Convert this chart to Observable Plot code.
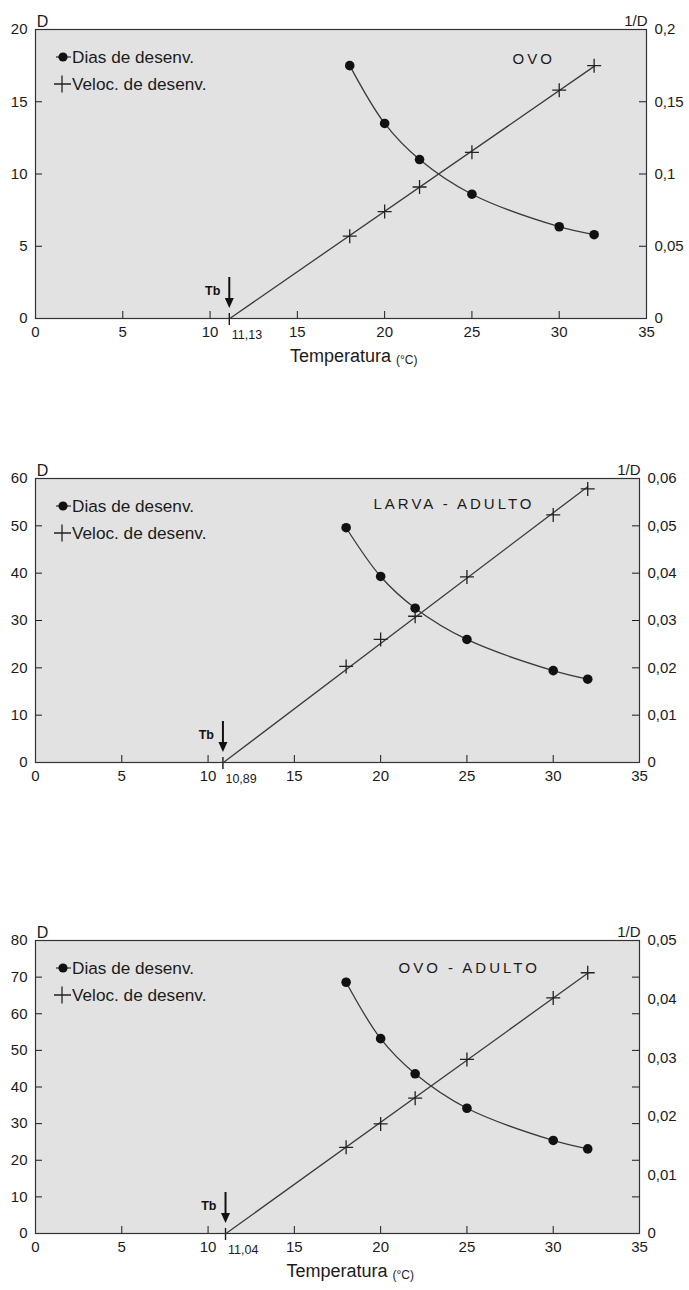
<!DOCTYPE html>
<html><head><meta charset="utf-8">
<script src="https://cdn.jsdelivr.net/npm/d3@7"></script>
<script src="https://cdn.jsdelivr.net/npm/@observablehq/plot@0.6"></script>
<style>
body{margin:0;background:#fff;}
#wrap{position:relative;width:689px;height:1290px;overflow:hidden;background:#fff;}
.panel{position:absolute;left:0;}
</style></head><body><div id="wrap"></div>
<script>
// ---- data ----
const temps = [18, 20, 22, 25, 30, 32];

const diasOvo = [17.5, 13.5, 11.0, 8.6, 6.35, 5.8];
const velOvo = [0.057, 0.074, 0.091, 0.115, 0.158, 0.175];
const tbOvo = 11.13;

const diasLarva = [49.6, 39.3, 32.6, 26.0, 19.4, 17.6];
const velLarva = [0.0203, 0.0260, 0.0309, 0.0392, 0.0523, 0.0578];
const tbLarva = 10.89;

const diasOvoAdulto = [68.6, 53.2, 43.6, 34.2, 25.4, 23.1];
const velOvoAdulto = [0.0147, 0.0187, 0.0231, 0.0297, 0.0402, 0.0445];
const tbOvoAdulto = 11.04;

const xTicks = [0, 5, 10, 15, 20, 25, 30, 35];
const dTicksOvo = [0, 5, 10, 15, 20];
const vTicksOvo = [0, 0.05, 0.1, 0.15, 0.2];
const dTicksLarva = [0, 10, 20, 30, 40, 50, 60];
const vTicksLarva = [0, 0.01, 0.02, 0.03, 0.04, 0.05, 0.06];
const dTicksOvoAdulto = [0, 10, 20, 30, 40, 50, 60, 70, 80];
const vTicksOvoAdulto = [0, 0.01, 0.02, 0.03, 0.04, 0.05];

const panelTitles = ["OVO", "LARVA - ADULTO", "OVO - ADULTO"];
const legendLabels = ["Dias de desenv.", "Veloc. de desenv."];
const leftAxisTitle = "D";
const rightAxisTitle = "1/D";
const tbLabel = "Tb";
const xTitleMain = "Temperatura";
const xTitleUnit = "(°C)";

// ---- drawing ----
const FONT = "'Liberation Sans', Arial, Helvetica, sans-serif";
const INK = "#1b1b1b";
const LINE = "#3a3a3a";
const fmtComma = v => String(+(+v).toFixed(4)).replace(".", ",");

const thinPlus = {
  draw(ctx, size) {
    const r = Math.sqrt(size / Math.PI);
    ctx.moveTo(-r, 0); ctx.lineTo(r, 0);
    ctx.moveTo(0, -r); ctx.lineTo(0, r);
  }
};

function tbMark(tb) {
  return (index, scales) => {
    const x = scales.x(tb), y0 = scales.y(0);
    const g = d3.create("svg:g");
    g.append("line").attr("x1", x).attr("x2", x).attr("y1", y0 - 5).attr("y2", y0 + 7)
      .attr("stroke", INK).attr("stroke-width", 1.4);
    g.append("line").attr("x1", x).attr("x2", x).attr("y1", y0 - 41).attr("y2", y0 - 18)
      .attr("stroke", "#111").attr("stroke-width", 2);
    g.append("path").attr("d", `M${x - 4.5},${y0 - 20}L${x + 4.5},${y0 - 20}L${x},${y0 - 10}Z`)
      .attr("fill", "#111");
    g.append("text").attr("x", x - 9).attr("y", y0 - 27).attr("text-anchor", "end")
      .attr("dominant-baseline", "central").attr("font-size", 12.5).attr("font-weight", "bold")
      .attr("fill", "#111").text(tbLabel);
    return g.node();
  };
}

function legendMark() {
  return (index, scales, values, dims) => {
    const ml = dims.marginLeft, mt = dims.marginTop;
    const g = d3.create("svg:g").attr("text-anchor", "start");
    legendLabels.forEach((label, i) => {
      const y = mt + 28 + i * 27, cx = ml + 28;
      if (i === 0) {
        g.append("line").attr("x1", cx - 7).attr("x2", cx + 8).attr("y1", y).attr("y2", y)
          .attr("stroke", LINE).attr("stroke-width", 1.3);
        g.append("circle").attr("cx", cx).attr("cy", y).attr("r", 4.6).attr("fill", "#111");
      } else {
        g.append("path").attr("d", `M${cx - 9},${y}H${cx + 8}M${cx - 1},${y - 8.5}V${y + 8.5}`)
          .attr("stroke", "#222").attr("stroke-width", 1.3).attr("fill", "none");
      }
      g.append("text").attr("x", ml + 37).attr("y", y).attr("dominant-baseline", "central")
        .attr("text-anchor", "start").attr("font-size", 17.2).attr("fill", INK).text(label);
    });
    return g.node();
  };
}

function panel(cfg) {
  const W = 689, ml = 35;
  const {top, height, mt, mb, mr, dias, vel, tb, dTicks, vTicks, title, titleDx, titleDy, xTitle} = cfg;
  const dMax = dTicks[dTicks.length - 1], vMax = vTicks[vTicks.length - 1];
  const k = dMax / vMax;
  const innerW = W - ml - mr, innerH = height - mt - mb;
  const rows = temps.map((T, i) => ({T, D: dias[i], V: vel[i] * k}));
  const num = d3.sum(rows, r => (r.T - tb) * r.V);
  const den = d3.sum(rows, r => (r.T - tb) ** 2);
  const slope = num / den;
  const tEnd = d3.max(temps);
  const fit = [{T: tb, V: 0}, {T: tEnd, V: slope * (tEnd - tb)}];

  const marks = [
    Plot.frame({fill: "#e2e2e2", stroke: null}),
    Plot.ruleX(xTicks, {insetTop: innerH - 7, stroke: INK}),
    Plot.ruleY(dTicks, {insetRight: innerW - 7, stroke: INK}),
    Plot.ruleY(dTicks, {insetLeft: innerW - 7, stroke: INK}),
    Plot.axisX(xTicks, {tickSize: 0, tickPadding: 8, label: null}),
    Plot.axisY(dTicks, {anchor: "left", tickSize: 0, tickPadding: 8, label: null}),
    Plot.axisY(vTicks.map(v => v * k), {anchor: "right", tickSize: 0, tickPadding: 8, label: null,
      tickFormat: d => fmtComma(d / k)}),
    Plot.line(fit, {x: "T", y: "V", stroke: LINE, strokeWidth: 1.3}),
    Plot.line(rows, {x: "T", y: "D", curve: "catmull-rom", stroke: LINE, strokeWidth: 1.3}),
    Plot.dot(rows, {x: "T", y: "D", r: 4.8, fill: "#111", stroke: "none"}),
    Plot.dot(rows, {x: "T", y: "V", r: 7, symbol: thinPlus, stroke: "#222", strokeWidth: 1.3, fill: "none"}),
    Plot.text([tb], {x: d => d, y: 0, text: d => fmtComma(d), dy: 16, dx: 2, textAnchor: "start", fontSize: 12.5, fill: INK}),
    tbMark(tb),
    legendMark(),
    Plot.text([title], {frameAnchor: "top-left", text: d => d, dx: titleDx, dy: titleDy, textAnchor: "start", fontSize: 15, fill: INK}),
    Plot.text([leftAxisTitle], {frameAnchor: "top-left", text: d => d, dx: 7, dy: -14, textAnchor: "middle", fontSize: 16, fill: INK}),
    Plot.text([rightAxisTitle], {frameAnchor: "top-right", text: d => d, dx: 1, dy: -14, textAnchor: "end", fontSize: 15, fill: INK}),
    Plot.frame({stroke: "#333", strokeWidth: 1.2})
  ];
  if (xTitle) {
    marks.push(Plot.text([xTitleMain], {frameAnchor: "bottom", text: d => d, dx: 50, dy: 43, textAnchor: "end", fontSize: 18, fill: INK}));
    marks.push(Plot.text([xTitleUnit], {frameAnchor: "bottom", text: d => d, dx: 55, dy: 45, textAnchor: "start", fontSize: 12, fill: INK}));
  }

  const svg = Plot.plot({
    width: W, height, marginLeft: ml, marginRight: mr, marginTop: mt, marginBottom: mb,
    x: {domain: [0, 35]},
    y: {domain: [0, dMax]},
    style: {fontFamily: FONT, fontSize: "15px", color: INK, background: "transparent", overflow: "visible"},
    marks
  });
  d3.select(svg).selectAll("text").filter(function () { return this.textContent === title; })
    .attr("letter-spacing", 3);
  const div = document.createElement("div");
  div.className = "panel";
  div.style.top = top + "px";
  div.appendChild(svg);
  document.getElementById("wrap").appendChild(div);
}

panel({top: 0, height: 375, mt: 29, mb: 57, mr: 43, dias: diasOvo, vel: velOvo, tb: tbOvo,
  dTicks: dTicksOvo, vTicks: vTicksOvo, title: panelTitles[0], titleDx: 477, titleDy: 24, xTitle: true});
panel({top: 440, height: 352, mt: 38, mb: 30, mr: 50, dias: diasLarva, vel: velLarva, tb: tbLarva,
  dTicks: dTicksLarva, vTicks: vTicksLarva, title: panelTitles[1], titleDx: 338, titleDy: 20, xTitle: false});
panel({top: 900, height: 390, mt: 40, mb: 57, mr: 50, dias: diasOvoAdulto, vel: velOvoAdulto, tb: tbOvoAdulto,
  dTicks: dTicksOvoAdulto, vTicks: vTicksOvoAdulto, title: panelTitles[2], titleDx: 363, titleDy: 22, xTitle: true});
</script></body></html>
